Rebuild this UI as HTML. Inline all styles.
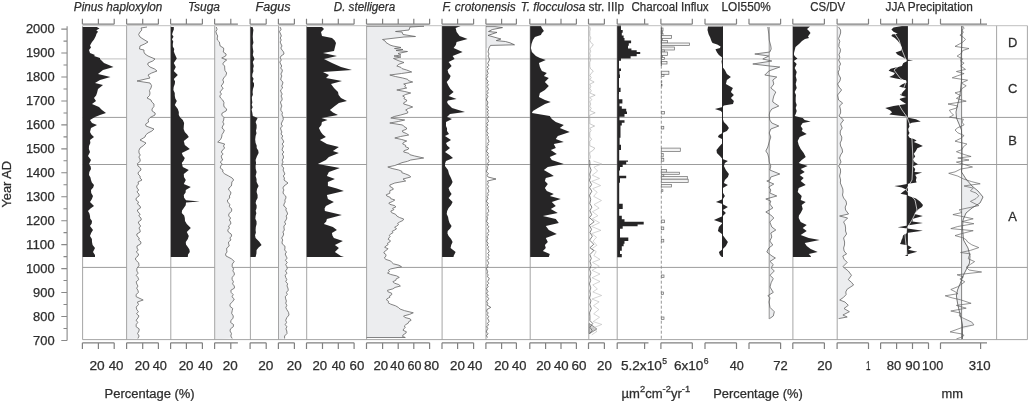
<!DOCTYPE html>
<html><head><meta charset="utf-8"><style>
html,body{margin:0;padding:0;background:#fff;}
body{width:1028px;height:401px;overflow:hidden;font-family:"Liberation Sans",sans-serif;}
svg{display:block;will-change:transform;}
</style></head><body>
<svg width="1028" height="401" viewBox="0 0 1028 401">
<rect width="1028" height="401" fill="#fff"/>
<g>
<line x1="82.6" y1="58.9" x2="1027.4" y2="58.9" stroke="#c0c0c0" stroke-width="1.0" />
<line x1="82.6" y1="117.4" x2="1027.4" y2="117.4" stroke="#9c9c9c" stroke-width="1.0" />
<line x1="82.6" y1="164.5" x2="1027.4" y2="164.5" stroke="#9c9c9c" stroke-width="1.0" />
<line x1="82.6" y1="267.4" x2="1027.4" y2="267.4" stroke="#9c9c9c" stroke-width="1.0" />
<polygon points="126.6,26.5 147,27 141,28 141.86,30 140,32 138.64,34.5 140,37 143,39 148,42 144.61,44 140,46 139.5,49 144,50 143.87,52 145,54 148,56 155,59 152.76,61 148,63 147.82,65 150,67 154.62,69 157,71 151.68,73 148,75 150,78 137,81 150,83 151.57,85.5 151,88 149.43,90.5 150,93 149.55,95.5 147,98 151,100 151.81,102 154,104 153.92,106.5 152,109 152.11,111 155.17,113 155,115 150.1,117.5 148,120 148.69,122 145.65,124 146,126 154,129 151.93,131 148,133 145.71,135 145,137 140,140 146,143 143.59,145.5 140,148 138.92,150.5 139,153 140.28,155 138.84,157 140,159 140.21,161.33 137.36,163.67 138,166 140.5,168 141,170 138.47,172 138,174 140.09,176 140.09,178 142,180 138,182 138.5,184 136.66,186 137,188 138.66,190 136.93,192 139,194 139.13,196 136.29,198 136,200 138.64,202 137.44,204 140,206 140.51,208 137.35,210 138,212 140.2,214 138.78,216 141,218 141.19,220 138.28,222 139,224 140.7,226 138.97,228 140,230 140.19,232 136.84,234 137,236 139.28,238 138.66,240 141,242 140.64,244 137,246 137,248 138.23,250 136.24,252 138.61,254 138,256 135.55,258 135.7,260 138.67,262.8 139,265.6 136.95,268.3 136.8,271 138.2,273.13 136.2,275.27 137.9,277.4 138.7,279.6 136.2,281.8 136.8,284 137.91,286.1 136.7,288.2 137.9,290.3 138.48,292.43 136.07,294.57 136.2,296.7 143.2,300 137.4,302 138.52,304.53 136.21,307.07 136.8,309.6 138.4,311.7 136.53,313.8 138.99,315.9 137.9,318 136.18,320.2 137.75,322.4 136.2,324.6 136.14,326.73 139.17,328.87 139,331 137.58,333.5 139.09,336 137.9,338.5 126.6,339.2" fill="#ecedef"/>
<polygon points="214.7,26.5 216.3,27 217.1,29.33 215.9,31.67 216.6,34 217.73,36 217.2,38 217.39,40 219.44,42 219.7,44 220.2,46 223.6,48 223.7,50 223.22,52 226.15,54 225.7,56 221.7,58 226.7,60 224.01,62 222.7,64 224.64,66 224.7,68 224.96,70.5 226.7,73 225.85,75.5 223.7,78 222.76,80 223.72,82 222.7,84 221.12,86 223.2,88 221.7,90 219.88,92 221.51,94 219.7,96 220.53,98 222.7,100 223.96,102.5 223.7,105 224.19,107 226.7,109 226.12,111 222.18,113 221.7,115 223.91,117.5 223.7,120 222.78,122 224.03,124 222.7,126 221.99,128 224.28,130 223.7,132 222.04,134.5 221.7,137 220.59,139.5 217.7,142 224.7,144 223.44,146 224.62,148 222.7,150 221.25,152 223.15,154 221.2,156 221.7,158 222.68,160 220.23,162 222.16,164 220.7,166 220.19,168 222.95,170 222.7,172 224.86,174 228.7,176 232.19,178 233.7,180 231.84,182 231.7,184 231.35,186 228.94,188 228.7,190 230.85,192 230.7,194 229.4,196 229.76,198 227.44,200 227.7,202 229.77,204.33 229.43,206.67 231.7,209 231.59,211.33 228.91,213.67 228.7,216 230.66,218 229.36,220 230.7,222 230.79,224 228.52,226 229.46,228 227.7,230 228.3,232 231.16,234 231.7,236 229.85,238 230.97,240 228.49,242 228.7,244 229.26,246 226.77,248 226.7,250 227.03,252 225.53,254 226,256 231.27,258.7 234.3,261.4 232.25,264.05 232.2,266.7 233.61,268.8 232.82,270.9 234.3,273 234.26,275.2 232.02,277.4 232.2,279.6 233.45,281.73 232.54,283.87 234.3,286 234.45,288.13 230.9,290.27 231.1,292.4 233.26,294.6 231.96,296.8 234.3,299 232.68,301.6 230,304.2 229.99,306.37 232.74,308.53 232.2,310.7 231.63,313.35 233.3,316 233.04,318.15 231.1,320.3 230.58,322.43 233.57,324.57 233.3,326.7 230.49,328.85 230,331 231.48,333.5 230.8,336 232.2,338.5 214.7,339.2" fill="#ecedef"/>
<polygon points="278.5,26.5 280,27 281.08,29.33 279.51,31.67 280.6,34 281.37,36 280.2,38 281.24,40 280.12,42 281,44 282.02,46 280.81,48 282,50 283.62,52 284,54 281,56 280.04,58 281.36,60 279.82,62 280.6,64 281.79,66 280.65,68 282.37,70 282,72 280.86,74 281.85,76 281,78 280.8,80 282.95,82 282.6,84 281.64,86 282.68,88 280.59,90 281,92 282.24,94 281.07,96 282,98 282.12,100 280.45,102 281,104 281.88,106 281,108 280.83,110.25 282.46,112.5 281.98,114.75 283,117 283.28,119.5 282,122 281.18,124 282.47,126 280.5,128 281,130 281.92,132 281.01,134 282.82,136 281.64,138 283,140 283.85,142 282.09,144 283.49,146 282.6,148 281.98,150 283.88,152 282.21,154 283.4,156 283.47,158 282.08,160 283.11,162 282,164 281.92,166 283.75,168 283.05,170 284,172 284.93,174 283.28,176 284.47,178 284,180 288,183 284,186 282.87,188 283.92,190 283,192 283.48,194 285.69,196 286,198 284.85,200 285.19,202 284,204 283.83,206 286.32,208 285.84,210 287,212 287.62,214 286.09,216 286.85,218 286,220 284.56,222 285.77,224 283.92,226 284,228 284.38,230 282.87,232 283.73,234 283,236 281.67,238 282.77,240 282,242 282.35,244 284.85,246 285,248 284.61,250 286.49,252 285.2,254 286,256 287.15,258.14 285.38,260.28 287.28,262.42 285.71,264.56 286.8,266.7 287.25,268.84 285.46,270.98 287.02,273.12 285.21,275.26 285.7,277.4 286.82,279.52 285.76,281.64 287.67,283.76 287.01,285.88 287.9,288 288.31,290.18 286.46,292.36 287.27,294.54 285.27,296.72 285.7,298.9 286.42,301.04 285.73,303.18 286.83,305.32 285.83,307.46 286.8,309.6 288.52,312.3 289,315 286.8,317.65 285.7,320.3 286.59,322.44 285.18,324.58 286.91,326.72 285.93,328.86 286.8,331 286.99,333.5 284.57,336 284.6,338.5 278.5,339.2" fill="#ecedef"/>
<polygon points="366.6,26.5 424,26.2 410,27 409,30 395.5,31.5 402,32 403,34.5 415.5,36.5 404,37 382.5,39.5 385.11,41 386,42.5 390,45 393,46 401,47.5 394.5,48.5 403,49.5 396,50.5 407.5,51.5 398,53.5 401,55 394,56 401,57 393.5,58.5 398,60.5 404,62.5 398.84,64.25 396.8,66 400.86,67.33 402.08,68.67 406.7,70 411.7,72 401.47,73.5 389.8,75 395.37,76.5 402.7,78 407.63,79.33 408.53,80.67 412.7,82 403.7,84 405.96,85.33 404.62,86.67 406.7,88 396.8,90 404.83,91.5 410.7,93 405.58,94.5 402.7,96 404.86,97.33 403.93,98.67 406.7,100 406.43,101.33 403.84,102.67 403.7,104 408.86,105.5 412.7,107 408.3,108.5 405.7,110 407.73,111.5 407.7,113 400.7,115 394.24,116.5 390.8,118 404.7,120 398.25,121.5 389.8,123 402.7,125 403.95,126.5 406.7,128 406.25,129.33 402.44,130.67 402.7,132 406.4,133.5 408.7,135 400.51,136.5 394.8,138 401.75,139.5 406.7,141 403.43,142.5 402.7,144 405.66,145.33 405.4,146.67 408.7,148 408.15,149.33 404.1,150.67 403.7,152 408.87,153.33 409.84,154.67 414.7,156 423.7,158 410.7,160 407.48,161.33 402,162.67 398.7,164 394.8,165.5 387.8,167 392.14,168.5 398.7,170 401.86,171.33 401.82,172.67 405.7,174 409.4,175.5 410.7,177 403,179 405.7,181 394.8,183 389.8,185 389.96,186.5 392.8,188 393.29,189.33 389.89,190.67 389.8,192 389.78,193.33 386.32,194.67 386.8,196 390.24,197.33 390.76,198.67 394.8,200 392.53,201.5 388.8,203 389.83,204.33 394.78,205.67 395.8,207 392.58,208.33 393.92,209.67 390.8,211 391.68,212.67 395.63,214.33 396.8,216 399.47,217.5 403.7,219 402.85,220.5 399.7,222 397.6,223.33 398.48,224.67 396.8,226 394.63,227.33 396.59,228.67 394.8,230 392.15,231.33 392.98,232.67 390.8,234 389.26,235.33 390.12,236.67 388.8,238 388.16,239.33 390.36,240.67 389.8,242 387.42,243.33 388.14,244.67 385.8,246 384.69,247.33 387.96,248.67 386.8,250 384.49,251.5 383.8,253 385.92,254.5 386,256 384.3,258 386,259.47 390.58,260.93 391.8,262.4 393.46,263.83 399.1,265.27 401.5,266.7 390.8,268.9 388.32,270.27 389.53,271.63 387.5,273 390.78,274.47 396.74,275.93 399.3,277.4 396.2,278.83 395.84,280.27 392.9,281.7 394.34,283.13 398.76,284.57 400.4,286 395.07,287.43 392.87,288.87 387.5,290.3 387.89,291.73 391.57,293.17 391.8,294.6 389.56,295.95 389.88,297.3 387.1,298.65 386.5,300 388.68,301.4 388.23,302.8 390.8,304.2 395.54,305.8 398.3,307.4 400.08,309.05 404.7,310.7 413.3,312.8 409.57,314.4 403.6,316 404.78,317.43 410.18,318.87 411.1,320.3 408.63,321.73 408.22,323.17 405.8,324.6 404.29,326.03 405.34,327.47 403.6,328.9 403.14,330.33 406.42,331.77 405.8,333.2 403.17,334.8 402.5,336.4 405.3,337.5 366.6,337.5" fill="#ecedef"/>
<polygon points="486,26.5 495,26.6 502.5,27.6 492.4,29.5 488.5,31.5 497,32.4 488,35.4 500.9,39 496.3,40.6 505.4,41.5 510,42.8 514.5,44.8 490.5,45.4 488.9,48 486,48" fill="#ecedef"/>
<polygon points="837.2,26.5 838.6,27 840.6,30 840.61,33 839.6,36 838.6,38.67 839.8,41.33 839,44 838.88,46.67 840.49,49.33 840.2,52 838.97,54.67 839.82,57.33 838.6,60 840.6,64 839.13,66.67 839.56,69.33 838.2,72 838.85,75 840.6,78 839.92,81 837.6,84 839.01,87 841.6,90 837.6,95 838.6,100 842.6,103 839.6,106 840.6,110 840.6,113 839,116 843.6,120 840.6,124 842.2,128 840.33,131 840.2,134 841.82,137 841.6,140 840.13,143 840.6,146 842.14,149 842.6,152 840.56,155 839.6,158 841,162 838.6,166 840.44,169 840.6,172 839.6,176 840.6,180 840.35,183 841.6,186 842.82,189 843,192 842.49,195 843.6,198 846.02,201 846.6,204 845.2,207 845.6,210 848.6,214 839.6,216 847.6,218 843.6,222 845.13,225 845.6,228 845.52,231 846.6,234 843.6,238 844.6,242 844.5,245 843.6,248 844.11,251 846.6,254 842.8,256 844,259.2 847.2,262.4 842.9,266.7 848.3,271 851.5,275.3 848.3,279.6 851.48,282.3 853.6,285 847.2,289.2 845.81,291.9 846.1,294.6 843.62,297.3 839.7,300 845,302 848.3,305.3 844,308.5 849.4,311.7 842.9,315 847.2,317 838.6,318.6 837.2,318.6" fill="#ecedef"/>
<polygon points="769.2,27 767.8,27 768.8,34 769.2,40 770.8,46 771.2,49 769.8,52 754.8,54 768.8,56 762.8,59 771.8,61 752.8,64 769.8,66 779.8,67 768.8,71 764.8,75 776.8,77 772.8,80 773.8,84 770.8,88 775.8,92 773.8,96 772.8,100 772.8,102 778.8,106 771.8,109 769.8,112 769.2,115 769.8,120 771.8,123 778.8,126 770.8,129 769.2,133 770.8,137 769.2,142 767.8,147 765.8,151 767.8,154 768.8,158 769.2,162 770.8,166 769.8,170 779.8,174 770.8,177 769.8,180 766.8,181 773.8,184 768.8,187 770.8,190 769.8,193 776.8,196 765.8,199 770.8,201 769.8,204 772.8,208 765.8,212 770.8,215 773.8,218 769.8,222 771.8,227 775.8,230 770.8,233 771.8,237 769.8,241 772.8,245 768.8,248 766.8,252 772,256 775.4,258 770,261.4 773.3,264.6 771.1,267.8 774.3,271 770,275.3 773.3,278.5 771.1,282.8 770,287 773.3,292.4 767.9,295.7 770,297.8 769,302 770,307.4 774.3,311.7 773.3,316 769.6,318.6 769.2,318.6" fill="#ecedef"/>
<polygon points="961.6,26 962,26 962,40 961,60 961.5,80 960,95 957.5,105 956,112 956.5,118 959,124 961.5,130 962,150 962,165 961.5,172 966,179 972,186 978,191 983,197 980,203 972,208 966,213 963,220 962.5,228 963.5,240 968,248 970,256 969.5,263 966,270 963,276 960,284 957.5,290 956.4,296 957.5,303 959,310 961,318 962.5,325 962.5,339 961.6,339" fill="#ecedef"/>
<polygon points="961.6,318.5 968,320.5 972.5,322.5 974,325 968,327.5 961.6,329.5" fill="#ecedef"/>
<rect x="661.3" y="28" width="1.7" height="3" fill="#f2f2f2" stroke="#6a6a6a" stroke-width="0.7"/>
<rect x="661.3" y="31" width="1.2" height="2.5" fill="#f2f2f2" stroke="#6a6a6a" stroke-width="0.7"/>
<rect x="661.3" y="33.5" width="1.7" height="1.8" fill="#f2f2f2" stroke="#6a6a6a" stroke-width="0.7"/>
<rect x="661.3" y="35.5" width="10.2" height="3" fill="#f2f2f2" stroke="#6a6a6a" stroke-width="0.7"/>
<rect x="661.3" y="38.5" width="1.2" height="2" fill="#f2f2f2" stroke="#6a6a6a" stroke-width="0.7"/>
<rect x="661.3" y="40.5" width="6.2" height="2.5" fill="#f2f2f2" stroke="#6a6a6a" stroke-width="0.7"/>
<rect x="661.3" y="43" width="28.2" height="2.5" fill="#f2f2f2" stroke="#6a6a6a" stroke-width="0.7"/>
<rect x="661.3" y="47" width="13.2" height="3" fill="#f2f2f2" stroke="#6a6a6a" stroke-width="0.7"/>
<rect x="661.3" y="50" width="3.2" height="2" fill="#f2f2f2" stroke="#6a6a6a" stroke-width="0.7"/>
<rect x="661.3" y="52" width="6.2" height="3.5" fill="#f2f2f2" stroke="#6a6a6a" stroke-width="0.7"/>
<rect x="661.3" y="55.5" width="1.2" height="1.8" fill="#f2f2f2" stroke="#6a6a6a" stroke-width="0.7"/>
<rect x="661.3" y="57.5" width="3.2" height="2" fill="#f2f2f2" stroke="#6a6a6a" stroke-width="0.7"/>
<rect x="661.3" y="61.5" width="5.7" height="2.5" fill="#f2f2f2" stroke="#6a6a6a" stroke-width="0.7"/>
<rect x="661.3" y="71.2" width="7.6" height="3.1" fill="#f2f2f2" stroke="#6a6a6a" stroke-width="0.7"/>
<rect x="661.3" y="74.6" width="2.7" height="1.8" fill="#f2f2f2" stroke="#6a6a6a" stroke-width="0.7"/>
<rect x="661.3" y="80.8" width="0.5" height="1.7" fill="#f2f2f2" stroke="#6a6a6a" stroke-width="0.7"/>
<rect x="661.3" y="84.3" width="0.7" height="1.7" fill="#f2f2f2" stroke="#6a6a6a" stroke-width="0.7"/>
<rect x="661.3" y="111.5" width="3.3" height="2.5" fill="#f2f2f2" stroke="#6a6a6a" stroke-width="0.7"/>
<rect x="661.3" y="126.3" width="2.5" height="2.7" fill="#f2f2f2" stroke="#6a6a6a" stroke-width="0.7"/>
<rect x="661.3" y="148.1" width="19" height="3.5" fill="#f2f2f2" stroke="#6a6a6a" stroke-width="0.7"/>
<rect x="661.3" y="153.4" width="1.9" height="3.5" fill="#f2f2f2" stroke="#6a6a6a" stroke-width="0.7"/>
<rect x="661.3" y="158.6" width="2.5" height="2.6" fill="#f2f2f2" stroke="#6a6a6a" stroke-width="0.7"/>
<rect x="661.3" y="169.6" width="5.1" height="2.6" fill="#f2f2f2" stroke="#6a6a6a" stroke-width="0.7"/>
<rect x="661.3" y="172.2" width="18.2" height="2.1" fill="#f2f2f2" stroke="#6a6a6a" stroke-width="0.7"/>
<rect x="661.3" y="174.8" width="2.5" height="2.2" fill="#f2f2f2" stroke="#6a6a6a" stroke-width="0.7"/>
<rect x="661.3" y="176.6" width="26" height="2.6" fill="#f2f2f2" stroke="#6a6a6a" stroke-width="0.7"/>
<rect x="661.3" y="179.2" width="26.9" height="3.2" fill="#f2f2f2" stroke="#6a6a6a" stroke-width="0.7"/>
<rect x="661.3" y="184.5" width="10.3" height="2.5" fill="#f2f2f2" stroke="#6a6a6a" stroke-width="0.7"/>
<rect x="661.3" y="189.7" width="1.6" height="1.7" fill="#f2f2f2" stroke="#6a6a6a" stroke-width="0.7"/>
<rect x="661.3" y="220" width="3.3" height="2.7" fill="#f2f2f2" stroke="#6a6a6a" stroke-width="0.7"/>
<rect x="661.3" y="227" width="2.5" height="2.7" fill="#f2f2f2" stroke="#6a6a6a" stroke-width="0.7"/>
<rect x="661.3" y="239.3" width="2.5" height="2.7" fill="#f2f2f2" stroke="#6a6a6a" stroke-width="0.7"/>
<rect x="661.3" y="275" width="2.7" height="2.5" fill="#f2f2f2" stroke="#6a6a6a" stroke-width="0.7"/>
<rect x="661.3" y="292" width="2.2" height="2.5" fill="#f2f2f2" stroke="#6a6a6a" stroke-width="0.7"/>
<rect x="661.3" y="317" width="2.7" height="2.5" fill="#f2f2f2" stroke="#6a6a6a" stroke-width="0.7"/>
<line x1="82.6" y1="25.7" x2="82.6" y2="339.6" stroke="#9c9c9c" stroke-width="0.9" />
<line x1="126.6" y1="25.7" x2="126.6" y2="339.6" stroke="#9c9c9c" stroke-width="0.9" />
<line x1="170.8" y1="25.7" x2="170.8" y2="339.6" stroke="#9c9c9c" stroke-width="0.9" />
<line x1="214.7" y1="25.7" x2="214.7" y2="339.6" stroke="#9c9c9c" stroke-width="0.9" />
<line x1="250.4" y1="25.7" x2="250.4" y2="339.6" stroke="#9c9c9c" stroke-width="0.9" />
<line x1="278.5" y1="25.7" x2="278.5" y2="339.6" stroke="#9c9c9c" stroke-width="0.9" />
<line x1="306.7" y1="25.7" x2="306.7" y2="339.6" stroke="#9c9c9c" stroke-width="0.9" />
<line x1="366.6" y1="25.7" x2="366.6" y2="339.6" stroke="#9c9c9c" stroke-width="0.9" />
<line x1="442.1" y1="25.7" x2="442.1" y2="339.6" stroke="#9c9c9c" stroke-width="0.9" />
<line x1="486" y1="25.7" x2="486" y2="339.6" stroke="#9c9c9c" stroke-width="0.9" />
<line x1="530.2" y1="25.7" x2="530.2" y2="339.6" stroke="#9c9c9c" stroke-width="0.9" />
<line x1="588.8" y1="25.7" x2="588.8" y2="339.6" stroke="#9c9c9c" stroke-width="0.9" />
<line x1="617.2" y1="25.7" x2="617.2" y2="339.6" stroke="#9c9c9c" stroke-width="0.9" />
<line x1="792.9" y1="25.7" x2="792.9" y2="339.6" stroke="#9c9c9c" stroke-width="0.9" />
<line x1="837.2" y1="25.7" x2="837.2" y2="339.6" stroke="#9c9c9c" stroke-width="0.9" />
<line x1="996.6" y1="25.7" x2="996.6" y2="339.6" stroke="#9c9c9c" stroke-width="0.9" />
<line x1="1027.4" y1="25.7" x2="1027.4" y2="339.6" stroke="#9c9c9c" stroke-width="0.9" />
<line x1="661.3" y1="25.7" x2="661.3" y2="339.6" stroke="#8a8a8a" stroke-width="0.9" stroke-dasharray="3,2"/>
<line x1="661.3" y1="27.5" x2="661.3" y2="66" stroke="#555" stroke-width="0.9" />
<line x1="769.2" y1="27" x2="769.2" y2="319" stroke="#8a8a8a" stroke-width="0.9" />
<line x1="961.6" y1="26" x2="961.6" y2="339.6" stroke="#777" stroke-width="0.9" />
<polygon points="82.6,27 96.8,27 99.5,28.5 96.3,30.3 98,31.8 96.5,33.8 95.8,36 94,39.5 92,42 90,45.5 91,47.5 89,50 90,53 95,55 94,56 100,58 100,59 104,63 113.5,67 103,70 98,74 110.5,77 100,80 95,83 103,85 98,89 97,93 96.1,95.5 94,98 96,101 92,104 99,107 102,110 106,113 100,115 95,117 90,120 92,123 97,125 91,128 90,132 91.34,134.5 94,137 90,140 90.36,143 89,146 88.89,149 90,152 88,156 91,160 89,164 90.63,166.5 91,169 89.32,172 89,175 90.46,177.5 91,180 91.86,182.5 94,185 93.2,187.5 91,190 91.21,193 93,196 91.91,199 90,202 94,206 90.48,208.5 88,211 89.41,213.5 90,216 90.2,218.5 92,221 91.73,223.5 90,226 93,230 91.12,233 90,236 91.89,239 92,242 92.62,245 95,248 93,252 95,255 95,257 82.6,257" fill="#262526"/>
<polygon points="170.8,27 173.8,27 173.8,29.5 172.8,32 172.07,34.4 173.53,36.8 171.98,39.2 173.26,41.6 172.8,44 172.82,46.5 174.24,49 173.82,51.5 174.8,54 176.8,58.4 173.8,63 175.8,67 173.8,71 177.8,75 173.8,79 175.06,81.5 174.8,84 173.67,87 173.4,90 174.75,93 174.8,96 175.32,98.5 176.8,101 174.8,105 177.8,109 178.82,112 178.8,115 180.21,117.5 182.8,120 184.11,123 183.8,126 183.61,129 184.8,132 187.17,134.5 188.8,137 183.8,141 184.8,145 189.8,149 181.8,153 182.79,155.5 184.8,158 183.74,160.5 181.8,163 182.8,167 188.8,170 183.8,174 183.97,177 185.8,180 183.8,184 190.8,187 185.8,190 185.6,192.5 183.8,195 184.1,197.65 186,200.3 199.8,201.4 186,202.4 185.71,205.2 183.8,208 182.04,210.5 181.8,213 184.17,215.5 184.8,218 185.01,221 186.8,224 190.8,228 186.8,232 188.8,236 187.8,239 185.8,242 185.98,244.5 187.8,247 189.42,249.5 189.8,252 188.03,254.5 187.8,257 170.8,257" fill="#262526"/>
<polygon points="250.4,27 252.6,27 253.39,30 253,33 252.76,36.5 253,40 253.44,42.67 252.57,45.33 252.8,48 253.4,51.5 252.8,55 254.5,59 252.8,62 253.8,66 253.09,68.67 253.42,71.33 252.4,74 252.23,76.4 253.59,78.8 252.76,81.2 254.01,83.6 254,86 252.94,89 252.6,92 252.89,94.67 251.86,97.33 252,100 252.37,102.4 251.76,104.8 252.67,107.2 251.61,109.6 252.2,112 252.8,116 257.6,118 255.6,122 256.63,125 256.6,128 255.95,130.67 256.51,133.33 255.6,136 255.18,139.5 255.6,143 256.67,145.5 256.7,148 258.24,150.5 258.6,153 256.83,156.5 255.6,160 256.04,163 255.6,166 255.73,169 256.6,172 255.6,176 256.55,179 256.6,182 258.6,186 257.03,189 256.6,192 257.57,195 257.6,198 256.21,200.5 255.6,203 256.65,205.5 256.6,208 255.67,210.67 256.35,213.33 255.6,216 255.35,218.67 256.51,221.33 256.6,224 255.81,227 255.6,230 255.9,232.67 255.02,235.33 255.6,238 259.09,241.5 261.6,245 258.6,247.5 256.6,250 256.44,253.5 255.6,257 250.4,257" fill="#262526"/>
<polygon points="306.7,27 322,27 324,29 321,32 322,36 332,38 334.71,40.5 336,43 335,47 334,51 323,53 337,56 324,59 332,63 341,67 352,70 323,72 329,75 326,78 342,81 331,84 334,88 338,92 338.62,95 341,98 347,101 338.9,103 334.9,106 329.9,110 333,112.5 338,115 321.5,118 327.5,120 321.9,122 321.38,125 318.9,128 320.9,132 322.83,134.5 325.9,137 319.9,140 326.9,144 338.9,147 332.9,151 338.9,153 328.9,157 325.9,160 317.9,164 339.9,168 328.9,172 326.9,176 334.9,179 327.9,182 327.9,186 336.76,188.5 343.9,191 326.9,195 327.9,199 333.9,202 325.9,206 324.58,208.5 324.9,211 341.9,215 326.9,219 326.2,221.5 323.9,224 332.9,227 336.9,230 331.9,233 332.43,235.5 333.9,238 342.9,241 334.9,245 338.9,248 334.9,252 340.9,256 344,257 306.7,257" fill="#262526"/>
<polygon points="442.1,26 460.6,26 455.6,28 456.6,32 459.6,36 467.6,39 456.6,42 455.83,45 453.6,48 462.6,52 452.6,56 454.6,59 448.6,62 451.6,66 447.6,70 448.32,73 450.6,76 449.29,79 446.7,82 448.6,86 450.46,89 453.6,92 448.6,96 456.6,99 448,100.5 447,102 448,104 450,106 452,108 465,112 450,114 447,117 452,119 446,122 446,126 447.07,128.5 447,131 449,134 445,136 451,140 446,143 447.1,145.5 450,148 445,152 449.52,155 453,158 446,161 445.06,163.5 445,166 448,170 449,174 451,178 452.6,182 451.1,185 448.6,188 449.6,191 451.6,194 448.6,198 452.6,202 451.14,205 448.6,208 447.15,211 446.7,214 448.07,217 448.6,220 449.56,223 451.6,226 450.18,228.5 447.7,231 447.48,233.5 448.6,236 451.07,239 452.6,242 451.2,245 450.6,248 455.6,252 453.6,256 453.6,257 442.1,257" fill="#262526"/>
<polygon points="530.2,26 540.9,26 541.9,28 543.9,31 541.9,33 540.9,35 534.9,37 532.9,40 531.5,44 530.9,48 531.9,52 535.9,56 539.9,58 545.8,60 538.9,63 539.9,67 541.9,71 546.8,73 543.9,76 548.8,78 544.9,82 548.8,86 544.9,90 539.9,93 538.9,97 545,100 550.8,102 545,104 537.9,108 532.9,111 531.9,113 537.9,114 549.8,116 551.8,119 555.8,122 563.8,125 559.8,128 569.8,132 557.8,136 555.8,139 563.8,142 553.8,144 555.8,148 550.8,150 556.8,154 549.8,157 551.8,160 563.8,164 547.8,167 543.9,170 550.8,174 553.8,176 545.8,178 544.9,181 547.8,184 544.9,188 546.8,191 553.8,194 549.8,196 560.8,199 551.8,202 555.8,206 550.8,209 557.8,213 542.9,216 555.8,219 558.8,223 545.8,226 548.8,230 556.8,234 545.8,238 547.8,242 544.9,245 545.8,248 542.9,251 549.8,254 548.8,257 530.2,257" fill="#262526"/>
<polygon points="617.2,25 621,25 621,30 622.7,30 622.7,32.7 621.8,32.7 621.8,35.4 623.6,35.4 623.6,38 624.5,38 624.5,40.6 631.1,40.6 631.1,43.2 628.8,43.2 628.8,45.8 628,45.8 628,48.5 631.4,48.5 631.4,50.2 636.7,50.2 636.7,52 640.2,52 640.2,54 636.7,54 636.7,56.3 630.6,56.3 630.6,58.6 621,58.6 621,60.7 619,60.7 619,68.5 621,68.5 621,71 619.5,71 619.5,74.6 620,74.6 620,78 619,78 619,87.8 620.6,87.8 620.6,92 619,92 619,94 618.9,94 618.9,99.2 622.4,99.2 622.4,103.6 619.5,103.6 619.5,106.2 621.8,106.2 621.8,108.8 626.2,108.8 626.2,111.5 627,111.5 627,114 624.5,114 624.5,116.7 619.5,116.7 619.5,120.2 624.5,120.2 624.5,122.8 621.8,122.8 621.8,125.4 620.5,125.4 620.5,137.7 619.6,137.7 619.6,144.7 621,144.7 621,150 619.2,150 619.2,160.4 628,160.4 628,161.7 626.2,161.7 626.2,164.4 622.7,164.4 622.7,167 620,167 620,170.5 619.2,170.5 619.2,175.7 626.2,175.7 626.2,178.3 620,178.3 620,182.7 619.2,182.7 619.2,203.7 622.7,203.7 622.7,209 619.2,209 619.2,215.7 621.8,215.7 621.8,219.2 624.5,219.2 624.5,221.8 643.7,221.8 643.7,224.5 637.6,224.5 637.6,226.2 622.7,226.2 622.7,228.8 620,228.8 620,237.6 628.3,237.6 628.3,241 624.5,241 624.5,243.7 623.6,243.7 623.6,246.3 621.8,246.3 621.8,250.7 620,250.7 620,254.1 621.8,254.1 621.8,257.3 617.2,257.3" fill="#262526"/>
<polygon points="722.5,26.6 708,26.6 707.5,30 708.6,34.3 709.2,35.5 709.7,36.6 710.3,37.8 710.9,39.5 711.5,41.2 712.6,43 717.2,44.6 720.6,46.4 720,48.1 715.5,49.2 716,50.4 717.2,52.7 718.9,55 721.2,56.7 722.4,57.8 722.5,59 721.5,61 721.9,64 722.5,67 724.9,70 726.9,74 730.9,77 726.9,80 725.9,84 732.9,88 730.9,92 733.9,95 730.9,98 733.9,101 733,104 723.9,105.5 722.5,107 714.9,109 720.9,111 722.5,113 721.9,115 722.5,118 723.9,122 726.9,125 728.9,128 726.9,131 722.5,133 718.9,135 717.9,137 721.9,139 722.9,141 722.5,143 718.9,147 716.5,150 716.9,153 719.9,156 722.5,159 727.9,161 724.9,163 723.9,166 725.9,170 728.9,174 727.9,177 724.9,180 723.9,183 727.9,185 722.9,188 722.5,192 724.9,196 722.9,199 715.9,202 722.5,204 727.9,207 722.9,210 725.9,213 722.9,216 713.9,220 722.5,223 718.9,227 717.9,231 721.9,234 724.9,238 727.9,242 725.9,246 722.9,249 718.9,252 719.9,255 721.9,257 722.5,257" fill="#262526"/>
<line x1="722.5" y1="26.4" x2="722.5" y2="257" stroke="#262526" stroke-width="1.0" />
<polygon points="792.9,26.4 810,26.4 807,29 809,31 810.5,33 809,35 808,36.5 809,38 805,39 802,41 799,44 795.5,47 795,49 794,53 794,55 795.5,57 797.5,58.4 793.8,61 796.7,64 794.7,68 796.7,72 795.7,76 796.7,80 795.7,84 796.7,88 794.7,92 795.96,95 795.7,98 795.7,102 796.7,105 795.7,108 796.7,111 795.7,114 794.7,116 802.7,118 804.7,120 810.7,121.5 802.7,123 800.7,126 802.7,129 801.7,131 806.7,134 799.7,137 797.7,141 798.7,145 800.7,149 803.7,153 805.7,157 801.7,160 798.7,163 807.7,166 800.7,169 804.7,172 799.7,175 803.7,178 800.7,181 805.7,185 798.7,188 797.7,192 801.7,196 800.7,200 805.7,202 801.7,205 802.7,209 800.7,213 798.92,215.5 798.7,218 800.7,222 806.7,225 802.7,228 806.7,231 800.7,235 808.7,238 819.7,240 804.7,243 806.7,246 810.7,249 817.7,252 808.7,254 810.7,256 811,257 792.9,257" fill="#262526"/>
<polygon points="907.3,26 901.9,26 893.5,27.5 891.4,29.6 893.5,31.7 897.7,33.8 892.1,34.5 891.4,35.9 894.9,38 897.7,40.8 899.8,43.6 901.9,47.8 901.2,50.5 895.6,52.6 897.7,54.7 903.3,57.5 906.1,59.6 913.1,60.3 907.5,61 903.3,63.1 901.9,65.9 890.7,68.7 888.6,70.8 894.9,72.9 893.5,75 889.3,77 896,78.5 906.1,80.2 906.8,82.3 901.9,84.4 899.1,86.5 906.1,88.6 904,90.7 901.9,92.8 899.8,94.9 906.1,97 899.1,99.1 901.9,101.2 906.1,104 893.5,106 885.2,108.1 890,110.2 892.1,112.3 889.3,114.4 906.1,116.5 907.2,117.5 915.9,119.3 920.8,121.4 911.7,122.8 908.9,124.2 909.6,126.3 908.2,129.1 908.9,131.9 909.6,132.8 908.2,135.6 909.6,137.7 913.8,139.1 916.6,140.5 913.8,141.9 918.7,144 922.9,146.1 917.3,148.2 915.9,151 913.8,153.8 915.2,156.5 913.1,159.3 914.5,162.1 918,164.2 913.1,166.3 915.2,169.1 914.5,171.9 922.2,172.6 915.2,174.7 916.6,177.5 915.9,180.3 916.6,182.4 908.2,183.8 900.5,185.2 894.2,186 901.9,187.4 906.1,189.5 903.3,191.6 900.5,193.7 906.8,195.1 910,196.5 916,198.6 920,201.4 923,204.9 922,207 918.7,209 916.6,211.2 914.5,213.9 922.9,216 913.1,218.8 912.4,221.6 922.9,223 910.3,225.1 897.7,227.2 907.5,228.6 922.9,230.7 908.2,232.8 905,234 903,235.5 902.5,238 901.5,240 901,242 900,244 906,245 908.2,245.5 911.7,247.6 908.2,249.7 917.3,251.8 908.9,253.9 904.7,256 907.3,256" fill="#262526"/>
<line x1="907.3" y1="26" x2="907.3" y2="256" stroke="#262526" stroke-width="1.2" />
<polyline points="895,34 899,40 902,50 906,60 894,70 900,78 906,82 903,90 900,97 898,103 902,110 907,117 910,125 912,140 913,160 912,180 906,190 915,200 917,210 912,220 907,228 905,235 906,245 907,255" fill="none" stroke="#ffffff" stroke-width="0.7" stroke-linejoin="round" />
<polyline points="147,27 141,28 141.86,30 140,32 138.64,34.5 140,37 143,39 148,42 144.61,44 140,46 139.5,49 144,50 143.87,52 145,54 148,56 155,59 152.76,61 148,63 147.82,65 150,67 154.62,69 157,71 151.68,73 148,75 150,78 137,81 150,83 151.57,85.5 151,88 149.43,90.5 150,93 149.55,95.5 147,98 151,100 151.81,102 154,104 153.92,106.5 152,109 152.11,111 155.17,113 155,115 150.1,117.5 148,120 148.69,122 145.65,124 146,126 154,129 151.93,131 148,133 145.71,135 145,137 140,140 146,143 143.59,145.5 140,148 138.92,150.5 139,153 140.28,155 138.84,157 140,159 140.21,161.33 137.36,163.67 138,166 140.5,168 141,170 138.47,172 138,174 140.09,176 140.09,178 142,180 138,182 138.5,184 136.66,186 137,188 138.66,190 136.93,192 139,194 139.13,196 136.29,198 136,200 138.64,202 137.44,204 140,206 140.51,208 137.35,210 138,212 140.2,214 138.78,216 141,218 141.19,220 138.28,222 139,224 140.7,226 138.97,228 140,230 140.19,232 136.84,234 137,236 139.28,238 138.66,240 141,242 140.64,244 137,246 137,248 138.23,250 136.24,252 138.61,254 138,256 135.55,258 135.7,260 138.67,262.8 139,265.6 136.95,268.3 136.8,271 138.2,273.13 136.2,275.27 137.9,277.4 138.7,279.6 136.2,281.8 136.8,284 137.91,286.1 136.7,288.2 137.9,290.3 138.48,292.43 136.07,294.57 136.2,296.7 143.2,300 137.4,302 138.52,304.53 136.21,307.07 136.8,309.6 138.4,311.7 136.53,313.8 138.99,315.9 137.9,318 136.18,320.2 137.75,322.4 136.2,324.6 136.14,326.73 139.17,328.87 139,331 137.58,333.5 139.09,336 137.9,338.5" fill="none" stroke="#666666" stroke-width="0.8" stroke-linejoin="round" />
<polyline points="216.3,27 217.1,29.33 215.9,31.67 216.6,34 217.73,36 217.2,38 217.39,40 219.44,42 219.7,44 220.2,46 223.6,48 223.7,50 223.22,52 226.15,54 225.7,56 221.7,58 226.7,60 224.01,62 222.7,64 224.64,66 224.7,68 224.96,70.5 226.7,73 225.85,75.5 223.7,78 222.76,80 223.72,82 222.7,84 221.12,86 223.2,88 221.7,90 219.88,92 221.51,94 219.7,96 220.53,98 222.7,100 223.96,102.5 223.7,105 224.19,107 226.7,109 226.12,111 222.18,113 221.7,115 223.91,117.5 223.7,120 222.78,122 224.03,124 222.7,126 221.99,128 224.28,130 223.7,132 222.04,134.5 221.7,137 220.59,139.5 217.7,142 224.7,144 223.44,146 224.62,148 222.7,150 221.25,152 223.15,154 221.2,156 221.7,158 222.68,160 220.23,162 222.16,164 220.7,166 220.19,168 222.95,170 222.7,172 224.86,174 228.7,176 232.19,178 233.7,180 231.84,182 231.7,184 231.35,186 228.94,188 228.7,190 230.85,192 230.7,194 229.4,196 229.76,198 227.44,200 227.7,202 229.77,204.33 229.43,206.67 231.7,209 231.59,211.33 228.91,213.67 228.7,216 230.66,218 229.36,220 230.7,222 230.79,224 228.52,226 229.46,228 227.7,230 228.3,232 231.16,234 231.7,236 229.85,238 230.97,240 228.49,242 228.7,244 229.26,246 226.77,248 226.7,250 227.03,252 225.53,254 226,256 231.27,258.7 234.3,261.4 232.25,264.05 232.2,266.7 233.61,268.8 232.82,270.9 234.3,273 234.26,275.2 232.02,277.4 232.2,279.6 233.45,281.73 232.54,283.87 234.3,286 234.45,288.13 230.9,290.27 231.1,292.4 233.26,294.6 231.96,296.8 234.3,299 232.68,301.6 230,304.2 229.99,306.37 232.74,308.53 232.2,310.7 231.63,313.35 233.3,316 233.04,318.15 231.1,320.3 230.58,322.43 233.57,324.57 233.3,326.7 230.49,328.85 230,331 231.48,333.5 230.8,336 232.2,338.5" fill="none" stroke="#666666" stroke-width="0.8" stroke-linejoin="round" />
<polyline points="280,27 281.08,29.33 279.51,31.67 280.6,34 281.37,36 280.2,38 281.24,40 280.12,42 281,44 282.02,46 280.81,48 282,50 283.62,52 284,54 281,56 280.04,58 281.36,60 279.82,62 280.6,64 281.79,66 280.65,68 282.37,70 282,72 280.86,74 281.85,76 281,78 280.8,80 282.95,82 282.6,84 281.64,86 282.68,88 280.59,90 281,92 282.24,94 281.07,96 282,98 282.12,100 280.45,102 281,104 281.88,106 281,108 280.83,110.25 282.46,112.5 281.98,114.75 283,117 283.28,119.5 282,122 281.18,124 282.47,126 280.5,128 281,130 281.92,132 281.01,134 282.82,136 281.64,138 283,140 283.85,142 282.09,144 283.49,146 282.6,148 281.98,150 283.88,152 282.21,154 283.4,156 283.47,158 282.08,160 283.11,162 282,164 281.92,166 283.75,168 283.05,170 284,172 284.93,174 283.28,176 284.47,178 284,180 288,183 284,186 282.87,188 283.92,190 283,192 283.48,194 285.69,196 286,198 284.85,200 285.19,202 284,204 283.83,206 286.32,208 285.84,210 287,212 287.62,214 286.09,216 286.85,218 286,220 284.56,222 285.77,224 283.92,226 284,228 284.38,230 282.87,232 283.73,234 283,236 281.67,238 282.77,240 282,242 282.35,244 284.85,246 285,248 284.61,250 286.49,252 285.2,254 286,256 287.15,258.14 285.38,260.28 287.28,262.42 285.71,264.56 286.8,266.7 287.25,268.84 285.46,270.98 287.02,273.12 285.21,275.26 285.7,277.4 286.82,279.52 285.76,281.64 287.67,283.76 287.01,285.88 287.9,288 288.31,290.18 286.46,292.36 287.27,294.54 285.27,296.72 285.7,298.9 286.42,301.04 285.73,303.18 286.83,305.32 285.83,307.46 286.8,309.6 288.52,312.3 289,315 286.8,317.65 285.7,320.3 286.59,322.44 285.18,324.58 286.91,326.72 285.93,328.86 286.8,331 286.99,333.5 284.57,336 284.6,338.5" fill="none" stroke="#666666" stroke-width="0.8" stroke-linejoin="round" />
<polyline points="366.6,26.3 424,26.2 410,27 409,30 395.5,31.5 402,32 403,34.5 415.5,36.5 404,37 382.5,39.5 385.11,41 386,42.5 390,45 393,46 401,47.5 394.5,48.5 403,49.5 396,50.5 407.5,51.5 398,53.5 401,55 394,56 401,57 393.5,58.5 398,60.5 404,62.5 398.84,64.25 396.8,66 400.86,67.33 402.08,68.67 406.7,70 411.7,72 401.47,73.5 389.8,75 395.37,76.5 402.7,78 407.63,79.33 408.53,80.67 412.7,82 403.7,84 405.96,85.33 404.62,86.67 406.7,88 396.8,90 404.83,91.5 410.7,93 405.58,94.5 402.7,96 404.86,97.33 403.93,98.67 406.7,100 406.43,101.33 403.84,102.67 403.7,104 408.86,105.5 412.7,107 408.3,108.5 405.7,110 407.73,111.5 407.7,113 400.7,115 394.24,116.5 390.8,118 404.7,120 398.25,121.5 389.8,123 402.7,125 403.95,126.5 406.7,128 406.25,129.33 402.44,130.67 402.7,132 406.4,133.5 408.7,135 400.51,136.5 394.8,138 401.75,139.5 406.7,141 403.43,142.5 402.7,144 405.66,145.33 405.4,146.67 408.7,148 408.15,149.33 404.1,150.67 403.7,152 408.87,153.33 409.84,154.67 414.7,156 423.7,158 410.7,160 407.48,161.33 402,162.67 398.7,164 394.8,165.5 387.8,167 392.14,168.5 398.7,170 401.86,171.33 401.82,172.67 405.7,174 409.4,175.5 410.7,177 403,179 405.7,181 394.8,183 389.8,185 389.96,186.5 392.8,188 393.29,189.33 389.89,190.67 389.8,192 389.78,193.33 386.32,194.67 386.8,196 390.24,197.33 390.76,198.67 394.8,200 392.53,201.5 388.8,203 389.83,204.33 394.78,205.67 395.8,207 392.58,208.33 393.92,209.67 390.8,211 391.68,212.67 395.63,214.33 396.8,216 399.47,217.5 403.7,219 402.85,220.5 399.7,222 397.6,223.33 398.48,224.67 396.8,226 394.63,227.33 396.59,228.67 394.8,230 392.15,231.33 392.98,232.67 390.8,234 389.26,235.33 390.12,236.67 388.8,238 388.16,239.33 390.36,240.67 389.8,242 387.42,243.33 388.14,244.67 385.8,246 384.69,247.33 387.96,248.67 386.8,250 384.49,251.5 383.8,253 385.92,254.5 386,256 384.3,258 386,259.47 390.58,260.93 391.8,262.4 393.46,263.83 399.1,265.27 401.5,266.7 390.8,268.9 388.32,270.27 389.53,271.63 387.5,273 390.78,274.47 396.74,275.93 399.3,277.4 396.2,278.83 395.84,280.27 392.9,281.7 394.34,283.13 398.76,284.57 400.4,286 395.07,287.43 392.87,288.87 387.5,290.3 387.89,291.73 391.57,293.17 391.8,294.6 389.56,295.95 389.88,297.3 387.1,298.65 386.5,300 388.68,301.4 388.23,302.8 390.8,304.2 395.54,305.8 398.3,307.4 400.08,309.05 404.7,310.7 413.3,312.8 409.57,314.4 403.6,316 404.78,317.43 410.18,318.87 411.1,320.3 408.63,321.73 408.22,323.17 405.8,324.6 404.29,326.03 405.34,327.47 403.6,328.9 403.14,330.33 406.42,331.77 405.8,333.2 403.17,334.8 402.5,336.4 405.3,337.5 366.6,337.5" fill="none" stroke="#666666" stroke-width="0.8" stroke-linejoin="round" />
<polyline points="486,26.6 495,26.6 502.5,27.6 492.4,29.5 488.5,31.5 497,32.4 488,35.4 500.9,39 496.3,40.6 505.4,41.5 510,42.8 514.5,44.8 490.5,45.4 488.9,48 488,52 489.08,54 488.01,56 489,58 489.45,60 488.4,62 487.74,63.67 489.02,65.33 487.11,67 488.66,68.67 487.24,70.33 487.6,72 488.19,73.6 486.76,75.2 487.79,76.8 486.3,78.4 487,80 488.2,81.6 486.97,83.2 488.52,84.8 487.04,86.4 488,88 488.46,89.67 487.1,91.33 488.3,93 486.66,94.67 487.98,96.33 487,98 486.4,100 487.88,102 487.6,104 486.78,105.6 488.67,107.2 486.74,108.8 488.53,110.4 487.37,112 488.24,113.6 487.4,115.2 488.88,116.8 487.38,118.4 488,120 488.45,121.67 486.73,123.33 488.09,125 486.6,126.67 487.83,128.33 487,130 486.81,131.67 488.25,133.33 486.84,135 488.49,136.67 487.72,138.33 488.5,140 488.9,141.67 487.58,143.33 488.45,145 486.61,146.67 488.04,148.33 487,150 486.53,151.67 488.41,153.33 487.26,155 488.74,156.67 487.63,158.33 488.5,160 489.01,161.67 487.53,163.33 488.62,165 487.04,166.67 487.75,168.33 487,170 486.37,171.75 488.47,173.5 487.09,175.25 488,177 496,179 487.5,181 488.35,182.8 487.35,184.6 488.66,186.4 487.53,188.2 488.5,190 488.76,191.67 487.53,193.33 488.42,195 487,196.67 488.04,198.33 487,200 486.36,201.67 488.37,203.33 487.06,205 488.61,206.67 487.59,208.33 488.5,210 488.65,211.67 487.17,213.33 488.35,215 486.91,216.67 487.7,218.33 487,220 486.58,221.67 488.25,223.33 487.12,225 488.92,226.67 487.45,228.33 488.5,230 488.79,231.67 487.28,233.33 488.7,235 486.79,236.67 488.01,238.33 487,240 486.81,241.67 488.19,243.33 487.07,245 488.64,246.67 487.6,248.33 488.5,250 489.21,251.71 487.69,253.43 489.07,255.14 487.83,256.86 488.95,258.57 487.26,260.29 488.2,262 488.61,263.6 487.3,265.2 487.88,266.8 486.52,268.4 487,270 487.68,271.67 487.04,273.33 488.22,275 487.33,276.67 489.25,278.33 488.5,280 487.56,281.67 488.68,283.33 487.09,285 488.2,286.67 486.58,288.33 487,290 488,291.67 486.39,293.33 488.32,295 487.01,296.67 488.62,298.33 488,300 486.72,301.67 487.83,303.33 487,305 490.8,307.4 487,309.5 486.71,311.25 488.27,313 486.94,314.75 488.79,316.5 487.5,318.25 488.5,320 489.15,321.67 487.31,323.33 488.63,325 486.52,326.67 487.91,328.33 487,330 486.3,331.88 488.08,333.75 486.44,335.62 487.5,337.5" fill="none" stroke="#555" stroke-width="0.75" stroke-linejoin="round" />
<polyline points="767.8,27 768.8,34 769.2,40 770.8,46 771.2,49 769.8,52 754.8,54 768.8,56 762.8,59 771.8,61 752.8,64 769.8,66 779.8,67 768.8,71 764.8,75 776.8,77 772.8,80 773.8,84 770.8,88 775.8,92 773.8,96 772.8,100 772.8,102 778.8,106 771.8,109 769.8,112 769.2,115 769.8,120 771.8,123 778.8,126 770.8,129 769.2,133 770.8,137 769.2,142 767.8,147 765.8,151 767.8,154 768.8,158 769.2,162 770.8,166 769.8,170 779.8,174 770.8,177 769.8,180 766.8,181 773.8,184 768.8,187 770.8,190 769.8,193 776.8,196 765.8,199 770.8,201 769.8,204 772.8,208 765.8,212 770.8,215 773.8,218 769.8,222 771.8,227 775.8,230 770.8,233 771.8,237 769.8,241 772.8,245 768.8,248 766.8,252 772,256 775.4,258 770,261.4 773.3,264.6 771.1,267.8 774.3,271 770,275.3 773.3,278.5 771.1,282.8 770,287 773.3,292.4 767.9,295.7 770,297.8 769,302 770,307.4 774.3,311.7 773.3,316 769.6,318.6" fill="none" stroke="#666666" stroke-width="0.8" stroke-linejoin="round" />
<polyline points="838.6,27 840.6,30 840.61,33 839.6,36 838.6,38.67 839.8,41.33 839,44 838.88,46.67 840.49,49.33 840.2,52 838.97,54.67 839.82,57.33 838.6,60 840.6,64 839.13,66.67 839.56,69.33 838.2,72 838.85,75 840.6,78 839.92,81 837.6,84 839.01,87 841.6,90 837.6,95 838.6,100 842.6,103 839.6,106 840.6,110 840.6,113 839,116 843.6,120 840.6,124 842.2,128 840.33,131 840.2,134 841.82,137 841.6,140 840.13,143 840.6,146 842.14,149 842.6,152 840.56,155 839.6,158 841,162 838.6,166 840.44,169 840.6,172 839.6,176 840.6,180 840.35,183 841.6,186 842.82,189 843,192 842.49,195 843.6,198 846.02,201 846.6,204 845.2,207 845.6,210 848.6,214 839.6,216 847.6,218 843.6,222 845.13,225 845.6,228 845.52,231 846.6,234 843.6,238 844.6,242 844.5,245 843.6,248 844.11,251 846.6,254 842.8,256 844,259.2 847.2,262.4 842.9,266.7 848.3,271 851.5,275.3 848.3,279.6 851.48,282.3 853.6,285 847.2,289.2 845.81,291.9 846.1,294.6 843.62,297.3 839.7,300 845,302 848.3,305.3 844,308.5 849.4,311.7 842.9,315 847.2,317 838.6,318.6" fill="none" stroke="#666666" stroke-width="0.8" stroke-linejoin="round" />
<polyline points="962.7,26 964.1,28.2 962,30.3 963.4,32.4 959.9,35.2 963.4,37.3 965.5,39.4 962.7,42.2 955,46.4 969,48.5 962.7,50.5 961.3,53.3 957.1,56.1 962.7,58.9 960.6,61 964.1,63.1 960.6,65.9 965.5,69.4 956.4,71.5 964.1,73.6 957.8,75.7 952.2,77.8 967.6,80.2 961.3,83 966.2,85.8 962,88.6 960.6,91.4 955,92.8 960.6,95.6 956.4,98.4 966.2,101.2 948,104 957.8,106 956.4,108.1 949.4,110.2 950.8,112.3 953.6,115.1 949.4,117.2 963.4,119.3 962,122.1 964.1,124.9 957.8,127.7 955,130 957.8,132.8 964.1,135.6 960.6,138.4 955,141.2 966.9,144 963.4,146.8 962,149.6 956.4,151.7 964.1,154.5 971.1,156.5 957.8,158 969,160 956.4,162.1 963.4,164.2 972.5,167 960.6,169.1 955,171.9 948.7,173.3 957.8,176.1 963.4,178.9 971.8,181.7 980.2,183.8 969,185.2 964.1,186 973.2,188.1 970.4,190.9 976,193 978.8,195.8 976,198.6 970.4,201.4 978.8,205.6 969,207.7 959.2,209.8 962,212.5 952.9,214.6 963.4,216.7 973.2,218.8 962,221.6 973.9,223.7 957.8,226.5 950.8,228.6 973.2,230.7 962,233.5 955,235.6 962.7,237.7 966.2,239.8 967.6,242 971.8,244.8 978.8,247.6 970.4,250.4 960.6,252.5 970.4,253.9 969,256 968.3,258.8 974.6,261.6 970.4,264.4 966.2,267.2 969,270 981.6,272 969,273.4 957.1,274.8 963.4,276.9 959.9,279 964.8,281.8 962,283.9 957.8,286.7 950.8,289.5 955,291.6 957.8,293.7 945.2,295.8 952.2,297.9 960.6,299.8 971.1,303.3 956.4,305.4 966.2,308.2 950.8,311 960.6,313.1 959.2,315.8 962.7,317.9 971.8,322.1 973.9,324.9 963.4,327 950.1,331.9 962,334 964.1,335.4 960.6,337.5 956.4,338.9" fill="none" stroke="#666" stroke-width="0.7" stroke-linejoin="round" />
<polyline points="962,26 962,40 961,60 961.5,80 960,95 957.5,105 956,112 956.5,118 959,124 961.5,130 962,150 962,165 961.5,172 966,179 972,186 978,191 983,197 980,203 972,208 966,213 963,220 962.5,228 963.5,240 968,248 970,256 969.5,263 966,270 963,276 960,284 957.5,290 956.4,296 957.5,303 959,310 961,318 962.5,325 962.5,339" fill="none" stroke="#555" stroke-width="0.8" stroke-linejoin="round" />
<polyline points="589.8,27 590.32,29.2 589.8,31.4 589.85,33.6 589.8,35.8 590.94,38 589.8,40.2 590.7,42.4 593.3,44.6 591.71,46.8 589.8,49 590.72,51.2 589.8,53.4 590.31,55.6 589.8,57.8 590.77,60 589.8,62.2 589.78,64.4 589.8,66.6 590.56,68.8 593.3,71 591.45,73.2 589.8,75.4 591.23,77.6 589.8,79.8 594.11,82 589.8,84.2 590.78,86.4 589.8,88.6 591.31,90.8 589.8,93 595.16,95.2 589.8,97.4 591.74,99.6 589.8,101.8 590.77,104 589.8,106.2 591.22,108.4 589.8,110.6 595.18,112.8 589.8,115 589.69,117.2 589.8,119.4 589.86,121.6 589.8,123.8 594.61,126 589.8,128.2 591.12,130.4 589.8,132.6 589.8,134.8 589.8,137 591.63,139.2 589.8,141.4 589.74,143.6 589.8,145.8 594.76,148 593.3,150.2 589.79,152.4 589.8,154.6 590.46,156.8 589.8,159" fill="none" stroke="#a8a8a8" stroke-width="0.6" stroke-linejoin="round" />
<polygon points="589.2,323.5 593,326 596.8,329 593,331.5 589.2,333.5" fill="#d4d4d4" stroke="#555" stroke-width="0.6"/>
<polyline points="593.43,161 601.75,163.94 593.95,167.11 597.61,171.05 592.24,175.19 599.55,178.43 591.72,181.35 600.67,185.55 592.65,188.62 597.16,192.2 593.66,196.32 601.48,200.52 594,204.56 599.15,208.13 592.45,211.73 597.86,215.73 592.4,218.65 599.53,222.7 591.56,226.4 600.94,230.35 591.65,233.59 596.52,237.21 593.05,241.14 596.89,245.3 591.69,248.74 596.23,251.55 593.84,255.61 600.01,259.42 592.47,262.33 599.25,266.27 591.97,270.31 599.96,274.03 592.03,277.72 600.01,281.5 592.75,284.85 597.35,288.9 592.82,291.95 601.65,295.47 591.93,299.04 599.13,301.85 593.5,305.64 598.84,309.54 593.67,313.8 599.57,317.29 593.2,321.6 601.83,324.44 592.38,328.29 596.99,331.32 591.73,334.91" fill="none" stroke="#b8b8b8" stroke-width="0.6" stroke-linejoin="round" />
<polyline points="589.56,160 589.96,162.94 589.63,166.11 591.12,170.05 589.77,174.19 590.37,177.43 589.48,180.35 591.6,184.55 589.63,187.62 591.82,191.2 589.55,195.32 590.71,199.52 589.85,203.56 591.85,207.13 589.92,210.73 591.67,214.73 589.49,217.65 594.18,221.7 589.43,225.4 591.5,229.35 589.98,232.59 592.29,236.21 589.67,240.14 593.77,244.3 589.91,247.74 593.85,250.55 589.89,254.61 591.26,258.42 589.99,261.33 591.1,265.27 589.68,269.31 590.87,273.03 589.82,276.72 590.67,280.5 589.51,283.85 590.79,287.9 589.9,290.95 590.5,294.47 589.57,298.04 590.95,300.85 589.93,304.64 591.25,308.54 589.63,312.8 589.96,316.29 589.92,320.6 592.73,323.44 589.92,327.29 592.17,330.32 589.61,333.91" fill="none" stroke="#505050" stroke-width="0.7" stroke-linejoin="round" />
<line x1="82.6" y1="25.7" x2="1027.4" y2="25.7" stroke="#b8b8b8" stroke-width="0.9" />
<line x1="82.6" y1="339.6" x2="1027.4" y2="339.6" stroke="#9c9c9c" stroke-width="0.9" />
<path d="M82.4 24.2H114.2M82.4 342.8H114.2M82.4 18.8V24.2M82.4 342.8V349M98.4 18.8V24.2M98.4 342.8V349M114.2 18.8V24.2M114.2 342.8V349M126.6 24.2H158.4M126.6 342.8H158.4M126.6 18.8V24.2M126.6 342.8V349M142.7 18.8V24.2M142.7 342.8V349M158.4 18.8V24.2M158.4 342.8V349M170.6 24.2H202.4M170.6 342.8H202.4M170.6 18.8V24.2M170.6 342.8V349M186.4 18.8V24.2M186.4 342.8V349M202.4 18.8V24.2M202.4 342.8V349M214.6 24.2H237.9M214.6 342.8H237.9M214.6 18.8V24.2M214.6 342.8V349M230.8 18.8V24.2M230.8 342.8V349M250.1 24.2H266.2M250.1 342.8H266.2M250.1 18.8V24.2M250.1 342.8V349M266.2 18.8V24.2M266.2 342.8V349M278.4 24.2H294.4M278.4 342.8H294.4M278.4 18.8V24.2M278.4 342.8V349M294.4 18.8V24.2M294.4 342.8V349M306.5 24.2H354.1M306.5 342.8H354.1M306.5 18.8V24.2M306.5 342.8V349M322.5 18.8V24.2M322.5 342.8V349M338.3 18.8V24.2M338.3 342.8V349M354.1 18.8V24.2M354.1 342.8V349M366.5 24.2H429.6M366.5 342.8H429.6M366.5 18.8V24.2M366.5 342.8V349M382.6 18.8V24.2M382.6 342.8V349M398.2 18.8V24.2M398.2 342.8V349M413.8 18.8V24.2M413.8 342.8V349M429.6 18.8V24.2M429.6 342.8V349M442 24.2H473.6M442 342.8H473.6M442 18.8V24.2M442 342.8V349M457.6 18.8V24.2M457.6 342.8V349M473.6 18.8V24.2M473.6 342.8V349M485.9 24.2H516.4M485.9 342.8H516.4M485.9 18.8V24.2M485.9 342.8V349M501.6 18.8V24.2M501.6 342.8V349M516.4 18.8V24.2M516.4 342.8V349M529.8 24.2H576.4M529.8 342.8H576.4M529.8 18.8V24.2M529.8 342.8V349M545.6 18.8V24.2M545.6 342.8V349M561 18.8V24.2M561 342.8V349M576.4 18.8V24.2M576.4 342.8V349M588.5 24.2H604.4M588.5 342.8H604.4M588.5 18.8V24.2M588.5 342.8V349M604.4 18.8V24.2M604.4 342.8V349M617.2 24.2H648.5M617.2 342.8H648.5M617.2 18.8V24.2M617.2 342.8V349M644.6 18.8V24.2M644.6 342.8V349M660.9 24.2H692.3M660.9 342.8H692.3M660.9 18.8V24.2M660.9 342.8V349M692.3 18.8V24.2M692.3 342.8V349M705 24.2H736.5M705 342.8H736.5M705 18.8V24.2M705 342.8V349M736.5 18.8V24.2M736.5 342.8V349M749 24.2H780.6M749 342.8H780.6M749 18.8V24.2M749 342.8V349M780.6 18.8V24.2M780.6 342.8V349M792.8 24.2H824.4M792.8 342.8H824.4M792.8 18.8V24.2M792.8 342.8V349M824.4 18.8V24.2M824.4 342.8V349M837.1 24.2H868.5M837.1 342.8H868.5M837.1 18.8V24.2M837.1 342.8V349M868.5 18.8V24.2M868.5 342.8V349M880.6 24.2H928.5M880.6 342.8H928.5M880.6 18.8V24.2M880.6 342.8V349M896.6 18.8V24.2M896.6 342.8V349M912.5 18.8V24.2M912.5 342.8V349M928.5 18.8V24.2M928.5 342.8V349M940.5 24.2H987M940.5 342.8H987M940.5 18.8V24.2M940.5 342.8V349M980.6 18.8V24.2M980.6 342.8V349" fill="none" stroke="#808080" stroke-width="1.2"/>
<path d="M67.1 26.2V340.4M61.3 29.1H67.1M63.5 41.08H67.1M61.3 53.05H67.1M63.5 65.03H67.1M61.3 77H67.1M63.5 88.97H67.1M61.3 100.95H67.1M63.5 112.93H67.1M61.3 124.9H67.1M63.5 136.88H67.1M61.3 148.85H67.1M63.5 160.82H67.1M61.3 172.8H67.1M63.5 184.77H67.1M61.3 196.75H67.1M63.5 208.72H67.1M61.3 220.7H67.1M63.5 232.67H67.1M61.3 244.65H67.1M63.5 256.62H67.1M61.3 268.6H67.1M63.5 280.57H67.1M61.3 292.55H67.1M63.5 304.53H67.1M61.3 316.5H67.1M63.5 328.48H67.1M61.3 340.45H67.1" fill="none" stroke="#888" stroke-width="1.1"/>
<g font-family="Liberation Sans, sans-serif" fill="#2e2e2e" stroke="#2e2e2e" stroke-width="0.25">
<text x="73.87" y="11.2" font-size="12" text-anchor="start" textLength="88.44" lengthAdjust="spacingAndGlyphs" style="font-style:italic;">Pinus haploxylon</text>
<text x="187.91" y="11.2" font-size="12" text-anchor="start" textLength="32.06" lengthAdjust="spacingAndGlyphs" style="font-style:italic;">Tsuga</text>
<text x="255.6" y="11.2" font-size="12" text-anchor="start" textLength="34.9" lengthAdjust="spacingAndGlyphs" style="font-style:italic;">Fagus</text>
<text x="333.78" y="11.2" font-size="12" text-anchor="start" textLength="61.33" lengthAdjust="spacingAndGlyphs" style="font-style:italic;">D. stelligera</text>
<text x="442.46" y="11.2" font-size="12" text-anchor="start" textLength="73.17" lengthAdjust="spacingAndGlyphs" style="font-style:italic;">F. crotonensis</text>
<text x="520.63" y="11.2" font-size="12" text-anchor="start" textLength="64.67" lengthAdjust="spacingAndGlyphs" style="font-style:italic;">T. flocculosa</text>
<text x="588.52" y="11.2" font-size="12" text-anchor="start" textLength="35.58" lengthAdjust="spacingAndGlyphs" style="">str. IIIp</text>
<text x="631.42" y="11.2" font-size="12" text-anchor="start" textLength="77.26" lengthAdjust="spacingAndGlyphs" style="">Charcoal Influx</text>
<text x="721.55" y="11.2" font-size="12" text-anchor="start" textLength="49.22" lengthAdjust="spacingAndGlyphs" style="">LOI550%</text>
<text x="810.36" y="11.2" font-size="12" text-anchor="start" textLength="34.87" lengthAdjust="spacingAndGlyphs" style="">CS/DV</text>
<text x="885.49" y="11.2" font-size="12" text-anchor="start" textLength="87.47" lengthAdjust="spacingAndGlyphs" style="">JJA Precipitation</text>
<text x="89.43" y="369.9" font-size="12" text-anchor="start" textLength="15.26" lengthAdjust="spacingAndGlyphs" style="">20</text>
<text x="108.65" y="369.9" font-size="12" text-anchor="start" textLength="14.83" lengthAdjust="spacingAndGlyphs" style="">40</text>
<text x="134.89" y="369.9" font-size="12" text-anchor="start" textLength="14.95" lengthAdjust="spacingAndGlyphs" style="">20</text>
<text x="152.66" y="369.9" font-size="12" text-anchor="start" textLength="14.21" lengthAdjust="spacingAndGlyphs" style="">40</text>
<text x="178.65" y="369.9" font-size="12" text-anchor="start" textLength="14.91" lengthAdjust="spacingAndGlyphs" style="">20</text>
<text x="198.37" y="369.9" font-size="12" text-anchor="start" textLength="14.43" lengthAdjust="spacingAndGlyphs" style="">40</text>
<text x="222.76" y="369.9" font-size="12" text-anchor="start" textLength="14.97" lengthAdjust="spacingAndGlyphs" style="">20</text>
<text x="258.23" y="369.9" font-size="12" text-anchor="start" textLength="15.22" lengthAdjust="spacingAndGlyphs" style="">20</text>
<text x="286.68" y="369.9" font-size="12" text-anchor="start" textLength="15.02" lengthAdjust="spacingAndGlyphs" style="">20</text>
<text x="312.48" y="369.9" font-size="12" text-anchor="start" textLength="14.7" lengthAdjust="spacingAndGlyphs" style="">20</text>
<text x="331.67" y="369.9" font-size="12" text-anchor="start" textLength="13.94" lengthAdjust="spacingAndGlyphs" style="">40</text>
<text x="349.64" y="369.9" font-size="12" text-anchor="start" textLength="14.74" lengthAdjust="spacingAndGlyphs" style="">60</text>
<text x="373.48" y="369.9" font-size="12" text-anchor="start" textLength="14.7" lengthAdjust="spacingAndGlyphs" style="">20</text>
<text x="390.37" y="369.9" font-size="12" text-anchor="start" textLength="14.1" lengthAdjust="spacingAndGlyphs" style="">40</text>
<text x="407.55" y="369.9" font-size="12" text-anchor="start" textLength="13.92" lengthAdjust="spacingAndGlyphs" style="">60</text>
<text x="424" y="369.9" font-size="12" text-anchor="start" textLength="15.18" lengthAdjust="spacingAndGlyphs" style="">80</text>
<text x="450.02" y="369.9" font-size="12" text-anchor="start" textLength="14.84" lengthAdjust="spacingAndGlyphs" style="">20</text>
<text x="467.63" y="369.9" font-size="12" text-anchor="start" textLength="14.75" lengthAdjust="spacingAndGlyphs" style="">40</text>
<text x="494.15" y="369.9" font-size="12" text-anchor="start" textLength="14.79" lengthAdjust="spacingAndGlyphs" style="">20</text>
<text x="511.98" y="369.9" font-size="12" text-anchor="start" textLength="14.37" lengthAdjust="spacingAndGlyphs" style="">40</text>
<text x="536.19" y="369.9" font-size="12" text-anchor="start" textLength="14.78" lengthAdjust="spacingAndGlyphs" style="">20</text>
<text x="553.96" y="369.9" font-size="12" text-anchor="start" textLength="14.68" lengthAdjust="spacingAndGlyphs" style="">40</text>
<text x="571.45" y="369.9" font-size="12" text-anchor="start" textLength="14.93" lengthAdjust="spacingAndGlyphs" style="">60</text>
<text x="597.02" y="369.9" font-size="12" text-anchor="start" textLength="14.84" lengthAdjust="spacingAndGlyphs" style="">20</text>
<text x="729.75" y="369.9" font-size="12" text-anchor="start" textLength="14.07" lengthAdjust="spacingAndGlyphs" style="">40</text>
<text x="773.24" y="369.9" font-size="12" text-anchor="start" textLength="14.39" lengthAdjust="spacingAndGlyphs" style="">72</text>
<text x="817.31" y="369.9" font-size="12" text-anchor="start" textLength="14.95" lengthAdjust="spacingAndGlyphs" style="">20</text>
<text x="866.05" y="369.9" font-size="12" text-anchor="start" textLength="4.52" lengthAdjust="spacingAndGlyphs" style="">1</text>
<text x="886.83" y="369.9" font-size="12" text-anchor="start" textLength="14.53" lengthAdjust="spacingAndGlyphs" style="">80</text>
<text x="905.27" y="369.9" font-size="12" text-anchor="start" textLength="14.86" lengthAdjust="spacingAndGlyphs" style="">90</text>
<text x="922.14" y="369.9" font-size="12" text-anchor="start" textLength="21.12" lengthAdjust="spacingAndGlyphs" style="">100</text>
<text x="968.65" y="369.9" font-size="12" text-anchor="start" textLength="22.02" lengthAdjust="spacingAndGlyphs" style="">310</text>
<text x="620.93" y="369.9" font-size="12" text-anchor="start" textLength="40.92" lengthAdjust="spacingAndGlyphs" style="">5.2x10</text><text x="662.15" y="364.3" font-size="8.6">5</text>
<text x="673.94" y="369.9" font-size="12" text-anchor="start" textLength="29.42" lengthAdjust="spacingAndGlyphs" style="">6x10</text><text x="703.67" y="364.3" font-size="8.6">6</text>
<text x="104.58" y="397.5" font-size="12" text-anchor="start" textLength="90.08" lengthAdjust="spacingAndGlyphs" style="">Percentage (%)</text>
<text x="713.28" y="397.5" font-size="12" text-anchor="start" textLength="89.44" lengthAdjust="spacingAndGlyphs" style="">Percentage (%)</text>
<text x="941.63" y="397.5" font-size="12" text-anchor="start" textLength="21.48" lengthAdjust="spacingAndGlyphs" style="">mm</text>
<text x="54.61" y="33.35" font-size="12" text-anchor="end" textLength="28.69" lengthAdjust="spacingAndGlyphs" style="">2000</text>
<text x="54.61" y="57.3" font-size="12" text-anchor="end" textLength="28.69" lengthAdjust="spacingAndGlyphs" style="">1900</text>
<text x="54.61" y="81.25" font-size="12" text-anchor="end" textLength="28.69" lengthAdjust="spacingAndGlyphs" style="">1800</text>
<text x="54.61" y="105.2" font-size="12" text-anchor="end" textLength="28.69" lengthAdjust="spacingAndGlyphs" style="">1700</text>
<text x="54.61" y="129.15" font-size="12" text-anchor="end" textLength="28.69" lengthAdjust="spacingAndGlyphs" style="">1600</text>
<text x="54.61" y="153.1" font-size="12" text-anchor="end" textLength="28.69" lengthAdjust="spacingAndGlyphs" style="">1500</text>
<text x="54.61" y="177.05" font-size="12" text-anchor="end" textLength="28.69" lengthAdjust="spacingAndGlyphs" style="">1400</text>
<text x="54.61" y="201" font-size="12" text-anchor="end" textLength="28.69" lengthAdjust="spacingAndGlyphs" style="">1300</text>
<text x="54.61" y="224.95" font-size="12" text-anchor="end" textLength="28.69" lengthAdjust="spacingAndGlyphs" style="">1200</text>
<text x="54.67" y="248.9" font-size="12" text-anchor="end" textLength="28.69" lengthAdjust="spacingAndGlyphs" style="">1100</text>
<text x="54.61" y="272.85" font-size="12" text-anchor="end" textLength="28.69" lengthAdjust="spacingAndGlyphs" style="">1000</text>
<text x="54.61" y="296.8" font-size="12" text-anchor="end" textLength="21.52" lengthAdjust="spacingAndGlyphs" style="">900</text>
<text x="54.61" y="320.75" font-size="12" text-anchor="end" textLength="21.52" lengthAdjust="spacingAndGlyphs" style="">800</text>
<text x="54.61" y="344.7" font-size="12" text-anchor="end" textLength="21.52" lengthAdjust="spacingAndGlyphs" style="">700</text>
<text transform="translate(11.2 184.3) rotate(-90) scale(1.07 1)" x="0" y="0" font-size="12" text-anchor="middle">Year AD</text>
<text transform="translate(621.5 397.5) scale(1.09 1)" x="0" y="0" font-size="12">µm<tspan dy="-5.4" font-size="8.6">2</tspan><tspan dy="5.4">cm</tspan><tspan dy="-5.4" font-size="8.6">-2</tspan><tspan dy="5.4">yr</tspan><tspan dy="-5.4" font-size="8.6">-1</tspan></text>
<text transform="translate(1012.6 46.6) scale(1.08 1)" x="0" y="0" font-size="12" text-anchor="middle">D</text>
<text transform="translate(1012.6 92.5) scale(1.08 1)" x="0" y="0" font-size="12" text-anchor="middle">C</text>
<text transform="translate(1012.6 145.3) scale(1.08 1)" x="0" y="0" font-size="12" text-anchor="middle">B</text>
<text transform="translate(1012.6 220.7) scale(1.08 1)" x="0" y="0" font-size="12" text-anchor="middle">A</text>
</g></g></svg>
</body></html>
